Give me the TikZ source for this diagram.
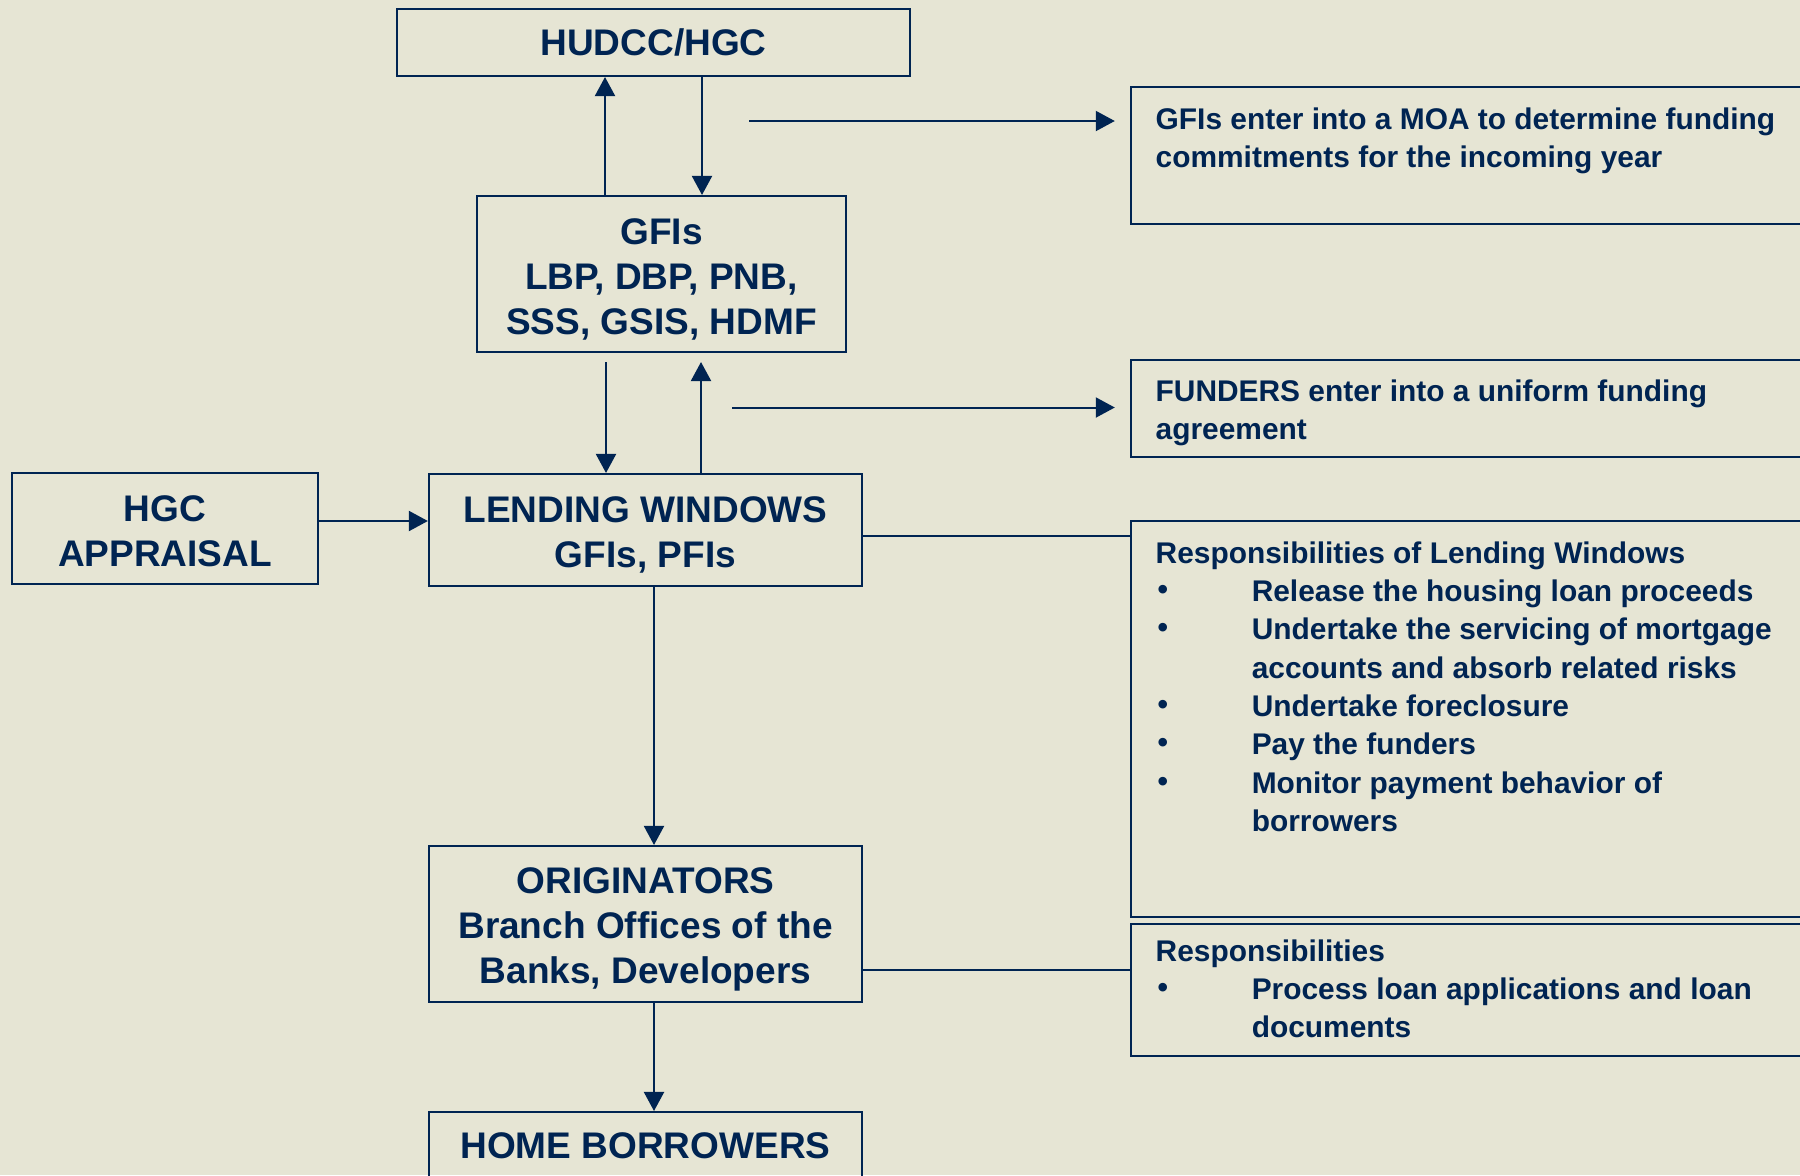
\documentclass[tikz,border=0pt]{standalone}
\usepackage{fontspec}
\setmainfont{Liberation Sans}
\usetikzlibrary{arrows.meta}
\definecolor{bg}{RGB}{230,229,212}
\definecolor{navy}{RGB}{0,36,82}
\tikzset{
 box/.style={draw=navy, line width=0.02cm, text=navy, font=\bfseries\fontsize{10.53pt}{12.8pt}\selectfont, align=center, inner sep=0pt},
 note/.style={draw=navy, line width=0.02cm, inner sep=0pt},
 notetext/.style={text=navy, font=\bfseries\fontsize{8.5pt}{10.9pt}\selectfont, inner sep=0pt, anchor=base west},
 arr/.style={draw=navy, line width=0.02cm, -{Triangle[length=0.19cm,width=0.2cm]}},
 link/.style={draw=navy, line width=0.02cm},
}
\newcommand{\bul}{\makebox[0.96cm][l]{\hspace{0.02cm}\raisebox{0.02cm}{\textbullet}}}
\newcommand{\ind}{\hspace*{0.96cm}}
\newcommand{\tup}{\rule{0pt}{0.36cm}}
\begin{document}
\begin{tikzpicture}[x=0.01cm,y=-0.01cm]
\fill[bg] (0,0) rectangle (1800,1175);
\useasboundingbox (0,0) rectangle (1800,1175);
\clip (0,0) rectangle (1800,1175);

% main column boxes
\node[box, minimum width=5.13cm, minimum height=0.67cm] (hudcc) at (653.5,42.5) {HUDCC/HGC};
\node[box, minimum width=3.69cm, minimum height=1.56cm] (gfis) at (661.5,274) {\tup GFIs\\LBP, DBP, PNB,\\SSS, GSIS, HDMF};
\node[box, minimum width=3.06cm, minimum height=1.11cm] (hgc) at (165,528.5) {\rule{0pt}{0.31cm}HGC\\APPRAISAL};
\node[box, minimum width=4.33cm, minimum height=1.12cm] (lw) at (645.5,530) {\tup LENDING WINDOWS\\GFIs, PFIs};
\node[box, minimum width=4.33cm, minimum height=1.56cm] (orig) at (645.5,924) {\tup ORIGINATORS\\Branch Offices of the\\Banks, Developers};
\node[box, minimum width=4.33cm, minimum height=0.68cm] (home) at (645.5,1146) {HOME BORROWERS};

% right note boxes
\node[note, minimum width=7.19cm, minimum height=1.37cm] (moa) at (1490.5,155.5) {};
\node[note, minimum width=7.19cm, minimum height=0.97cm] (fund) at (1490.5,408.5) {};
\node[note, minimum width=7.19cm, minimum height=3.96cm] (resp) at (1490.5,719) {};
\node[note, minimum width=7.19cm, minimum height=1.32cm] (resp2) at (1490.5,990) {};

\node[notetext] (moatext) at (1155,129) {\begin{tabular}[t]{@{}l@{}}GFIs enter into a MOA to determine funding\\commitments for the incoming year\end{tabular}};
\node[notetext] (fundtext) at (1155,401) {\begin{tabular}[t]{@{}l@{}}FUNDERS enter into a uniform funding\\agreement\end{tabular}};
\node[notetext] (resptext) at (1155,563) {\begin{tabular}[t]{@{}l@{}}Responsibilities of Lending Windows\\
\bul Release the housing loan proceeds\\
\bul Undertake the servicing of mortgage\\
\ind accounts and absorb related risks\\
\bul Undertake foreclosure\\
\bul Pay the funders\\
\bul Monitor payment behavior of\\
\ind borrowers\end{tabular}};
\node[notetext] (resp2text) at (1155,961) {\begin{tabular}[t]{@{}l@{}}Responsibilities\\
\bul Process loan applications and loan\\
\ind documents\end{tabular}};

% coordinates for connector positions
\coordinate (xa) at (605,0);
\coordinate (xb) at (702,0);
\coordinate (xc) at (606,0);
\coordinate (xd) at (701,0);
\coordinate (xe) at (654,0);
\coordinate (g1) at (0,362);
\coordinate (m1) at (749,121);
\coordinate (m2) at (732,407.5);
\coordinate (ya) at (0,521);
\coordinate (yb) at (0,536);
\coordinate (yc) at (0,970);

% connectors
\draw[arr] (gfis.north -| xa) -- (hudcc.south -| xa);
\draw[arr] (hudcc.south -| xb) -- (gfis.north -| xb);
\draw[arr] (m1) -- ([xshift=-0.15cm]moa.west |- m1);
\draw[arr] (m2) -- ([xshift=-0.15cm]fund.west |- m2);
\draw[arr] (g1 -| xc) -- (lw.north -| xc);
\draw[arr] (lw.north -| xd) -- (g1 -| xd);
\draw[arr] (hgc.east |- ya) -- (lw.west |- ya);
\draw[link] (lw.east |- yb) -- (resp.west |- yb);
\draw[arr] (lw.south -| xe) -- (orig.north -| xe);
\draw[link] (orig.east |- yc) -- (resp2.west |- yc);
\draw[arr] (orig.south -| xe) -- (home.north -| xe);
\end{tikzpicture}
\end{document}
